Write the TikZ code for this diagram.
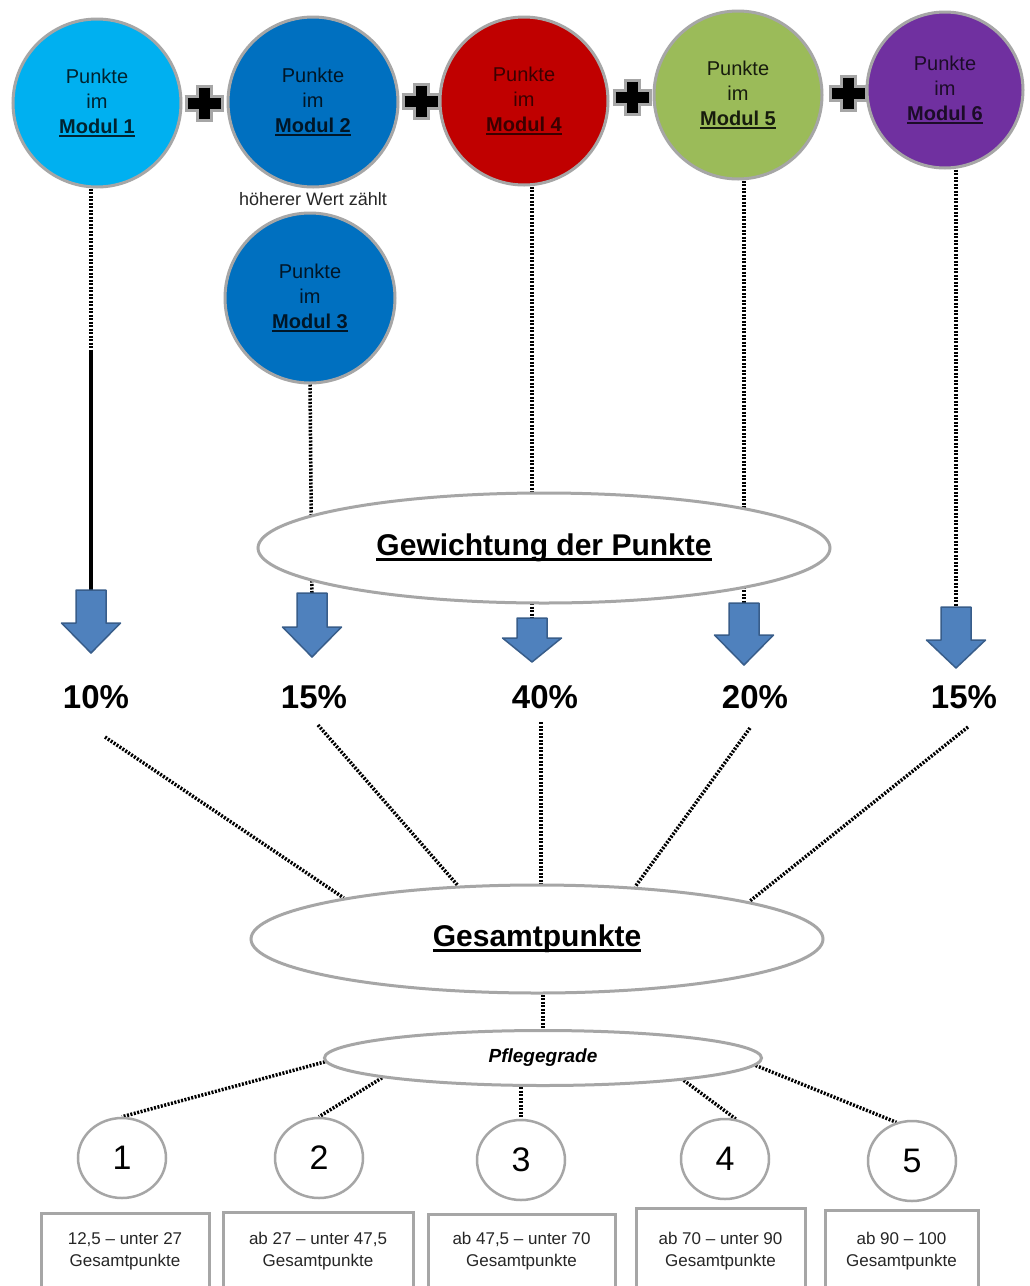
\documentclass[tikz,border=0pt]{standalone}
\usepackage{fontspec}
\setmainfont{Liberation Sans}
\usetikzlibrary{shapes.geometric,calc}
\definecolor{mA}{HTML}{00B0F0}
\definecolor{mB}{HTML}{0070C0}
\definecolor{mD}{HTML}{C00000}
\definecolor{mE}{HTML}{9BBB59}
\definecolor{mF}{HTML}{7030A0}
\definecolor{gcol}{HTML}{A6A6A6}
\definecolor{arrfill}{HTML}{4F81BD}
\definecolor{arredge}{HTML}{385D8A}
\pgfdeclarelayer{bg}
\pgfsetlayers{bg,main}
\newcommand{\ulmk}[1]{\setbox0=\hbox{#1}\rlap{\rule[-0.17em]{\wd0}{0.085em}}\box0}
\tikzset{
  modc/.style={circle, draw=gcol, line width=3, minimum size=#1, inner sep=0pt, align=center, font=\fontsize{20}{25}\selectfont},
  ellnode/.style={ellipse, draw=gcol, line width=3, fill=white, inner sep=0pt},
  smallc/.style={ellipse, draw=gcol, line width=2.5, fill=white, minimum width=88, minimum height=80, inner sep=0pt, font=\fontsize{34}{34}\selectfont},
  rangebox/.style={rectangle, draw=gcol, line width=3, fill=white, align=center, inner sep=0pt, font=\fontsize{17}{22}\selectfont, text=black!85},
  pct/.style={font=\fontsize{33}{33}\selectfont\bfseries, inner sep=0pt},
  dotl/.style={line width=3.5, dash pattern=on 2pt off 1.5pt, black},
  solidl/.style={line width=3.5, black},
  pics/barrow/.style args={#1/#2}{code={
    \filldraw[fill=arrfill, draw=arredge, line width=1.5, line join=round]
      (-15,0) -- (15,0) -- (15,#1) -- (29.5,#1) -- (0,#2) -- (-29.5,#1) -- (-15,#1) -- cycle;}},
  pics/plusmk/.style={code={
    \draw[gcol, line width=17] (-19.5,0) -- (19.5,0);
    \draw[gcol, line width=17] (0,-18.5) -- (0,18.5);
    \draw[black, line width=11] (-16.5,0) -- (16.5,0);
    \draw[black, line width=11] (0,-15.5) -- (0,15.5);}}
}
\begin{document}
\begin{tikzpicture}[x=1pt,y=-1pt]
\clip (0,0) rectangle (1029,1286);
\begin{pgfonlayer}{bg}
\fill[white] (0,0) rectangle (1029,1286);
\end{pgfonlayer}

% module circles
\node[modc=168, fill=mA, text=black!80!mA] (m1) at (97,103) {Punkte\\im\\\ulmk{\textbf{Modul 1}}};
\node[modc=170, fill=mB, text=black!80!mB] (m2) at (313,102) {Punkte\\im\\\ulmk{\textbf{Modul 2}}};
\node[modc=168, fill=mD, text=black!70!mD] (m4) at (524,101) {Punkte\\im\\\ulmk{\textbf{Modul 4}}};
\node[modc=168, fill=mE, text=black!85!mE] (m5) at (738,95) {Punkte\\im\\\ulmk{\textbf{Modul 5}}};
\node[modc=156, fill=mF, text=black!75!mF] (m6) at (945,90) {Punkte\\im\\\ulmk{\textbf{Modul 6}}};
\node[font=\fontsize{18}{18}\selectfont, text=black!85] (hw) at (313,199) {höherer Wert zählt};
\node[modc=170, fill=mB, text=black!80!mB] (m3) at (310,298) {Punkte\\im\\\ulmk{\textbf{Modul 3}}};

% plus signs
\pic at (204,103) {plusmk};
\pic at (421,101) {plusmk};
\pic at (632,97) {plusmk};
\pic at (848,93) {plusmk};

% weighting ellipse
\node[ellnode, minimum width=572, minimum height=110, font=\fontsize{30}{30}\selectfont\bfseries] (gw) at (544,548) {\ulmk{Gewichtung der Punkte}};

% block arrows
\coordinate (a1) at (91,590);
\coordinate (a2) at (312,593);
\coordinate (a3) at (532,618);
\coordinate (a4) at (744,603);
\coordinate (a5) at (956,607);
\coordinate (m1mid) at (91,350);
\pic at (a1) {barrow=33/63};
\pic at (a2) {barrow=34/64};
\pic at (a3) {barrow=20/44};
\pic at (a4) {barrow=32/62};
\pic at (a5) {barrow=33/61};

% percentages
\node[pct] (p1) at (96,697) {10\%};
\node[pct] (p2) at (314,697) {15\%};
\node[pct] (p3) at (545,697) {40\%};
\node[pct] (p4) at (755,697) {20\%};
\node[pct] (p5) at (964,697) {15\%};
\coordinate (p1s) at (105,737);
\coordinate (p2s) at (318,725);
\coordinate (p3s) at (541,722);
\coordinate (p4s) at (750,728);
\coordinate (p5s) at (968,727);

% total ellipse and care grades
\node[ellnode, minimum width=572, minimum height=108, font=\fontsize{30}{30}\selectfont\bfseries] (gp) at (537,939) {\ulmk{Gesamtpunkte}};
\node[ellnode, minimum width=437, minimum height=55, font=\fontsize{19}{19}\selectfont\bfseries\itshape] (pf) at (543,1058) {Pflegegrade};

\node[smallc] (c1) at (122,1158) {1};
\node[smallc] (c2) at (319,1158) {2};
\node[smallc] (c3) at (521,1160) {3};
\node[smallc] (c4) at (725,1159) {4};
\node[smallc] (c5) at (912,1161) {5};

\node[rangebox, minimum width=168, minimum height=76] (b1) at (125,1251) {12,5 – unter 27\\Gesamtpunkte};
\node[rangebox, minimum width=190, minimum height=78] (b2) at (318,1251) {ab 27 – unter 47,5\\Gesamtpunkte};
\node[rangebox, minimum width=187, minimum height=74] (b3) at (521.5,1251) {ab 47,5 – unter 70\\Gesamtpunkte};
\node[rangebox, minimum width=169, minimum height=86] (b4) at (720.5,1251) {ab 70 – unter 90\\Gesamtpunkte};
\node[rangebox, minimum width=153, minimum height=82] (b5) at (901.5,1251) {ab 90 – 100\\Gesamtpunkte};

% connectors
\begin{pgfonlayer}{bg}
\draw[dotl] (a1 |- m1.south) -- (m1mid);
\draw[solidl] (m1mid) -- (a1);
\draw[dotl] (m3.south) -- (a2);
\draw[dotl] (a3 |- m4.south) -- (a3);
\draw[dotl] (a4 |- m5.south) -- (a4);
\draw[dotl] (a5 |- m6.south) -- (a5);
\draw[dotl] (p1s) -- (gp.168);
\draw[dotl] (p2s) -- (gp.146);
\draw[dotl] (p3s) -- (p3s |- gp.north);
\draw[dotl] (p4s) -- (gp.28);
\draw[dotl] (p5s) -- (gp.10);
\draw[dotl] (pf.north |- gp.south) -- (pf.north);
\draw[dotl] (pf.181) -- (c1.north);
\draw[dotl] (pf.187) -- (c2.north);
\draw[dotl] (c3.north |- pf.south) -- (c3.north);
\draw[dotl] (pf.351) -- (c4.75);
\draw[dotl] (pf.358) -- (c5.112);
\end{pgfonlayer}
\end{tikzpicture}
\end{document}
